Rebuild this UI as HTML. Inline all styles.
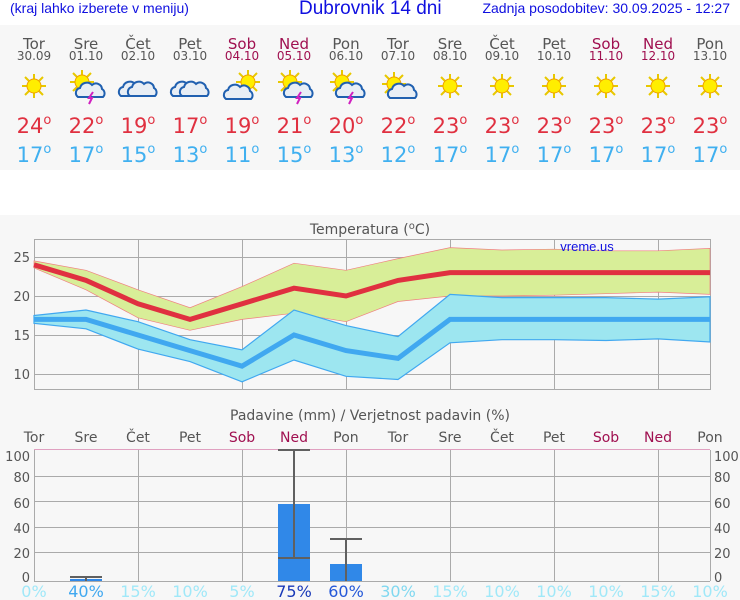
<!DOCTYPE html>
<html><head><meta charset="utf-8"><style>
body{margin:0;width:740px;height:600px;background:#fff;font-family:"DejaVu Sans","Liberation Sans",sans-serif;overflow:hidden;position:relative}
.t{position:absolute}
</style></head><body>
<div class="t" style="left:10px;top:0;font:14px 'Liberation Sans',sans-serif;color:#1010e0">(kraj lahko izberete v meniju)</div>
<div class="t" style="left:299px;top:-2px;font:19px 'Liberation Sans',sans-serif;color:#1010e0">Dubrovnik 14 dni</div>
<div class="t" style="right:10px;top:0;font:14px 'Liberation Sans',sans-serif;color:#1010e0">Zadnja posodobitev: 30.09.2025 - 12:27</div>
<svg class="t" style="left:0;top:0" width="740" height="600" font-family="DejaVu Sans, sans-serif">
<defs>
<g id="sun"><g stroke="#e8c800" stroke-width="2">
<line x1="-12" y1="0" x2="12" y2="0"/><line x1="0" y1="-12" x2="0" y2="12"/><line x1="-9" y1="-9" x2="9" y2="9"/><line x1="-9" y1="9" x2="9" y2="-9"/></g>
<circle r="7" fill="#ffee00" stroke="#f0a000"/></g>
<g id="cloud"><path d="M-13,6 a5,5 0 0 1 2,-9 a7,7 0 0 1 12,-3 a6,6 0 0 1 10,4 a5,5 0 0 1 1,8 z" fill="#e8eef5" stroke="#2060b0" stroke-width="2"/></g>
<g id="bolt"><path d="M2,4 l-4,6 h3 l-3,6" fill="none" stroke="#d020c0" stroke-width="2"/></g>
</defs>
<rect x="0" y="25" width="740" height="145" fill="#f7f7f7"/>
<rect x="0" y="215" width="740" height="385" fill="#f7f7f7"/>
<g font-size="15" text-anchor="middle" fill="#555">
<text x="34" y="49">Tor</text><text x="86" y="49">Sre</text><text x="138" y="49">Čet</text><text x="190" y="49">Pet</text><text x="242" y="49" fill="#a01050">Sob</text><text x="294" y="49" fill="#a01050">Ned</text><text x="346" y="49">Pon</text><text x="398" y="49">Tor</text><text x="450" y="49">Sre</text><text x="502" y="49">Čet</text><text x="554" y="49">Pet</text><text x="606" y="49" fill="#a01050">Sob</text><text x="658" y="49" fill="#a01050">Ned</text><text x="710" y="49">Pon</text>
</g>
<g font-size="12" text-anchor="middle" fill="#555">
<text x="34" y="60">30.09</text><text x="86" y="60">01.10</text><text x="138" y="60">02.10</text><text x="190" y="60">03.10</text><text x="242" y="60" fill="#a01050">04.10</text><text x="294" y="60" fill="#a01050">05.10</text><text x="346" y="60">06.10</text><text x="398" y="60">07.10</text><text x="450" y="60">08.10</text><text x="502" y="60">09.10</text><text x="554" y="60">10.10</text><text x="606" y="60" fill="#a01050">11.10</text><text x="658" y="60" fill="#a01050">12.10</text><text x="710" y="60">13.10</text>
</g>
<use href="#sun" x="34" y="86"/>
<use href="#sun" x="82" y="82"/><use href="#cloud" x="91" y="91"/><use href="#bolt" x="91" y="88"/>
<use href="#cloud" x="134" y="90"/><use href="#cloud" x="143" y="90"/>
<use href="#cloud" x="186" y="90"/><use href="#cloud" x="195" y="90"/>
<use href="#sun" x="248" y="82"/><use href="#cloud" x="239" y="93"/>
<use href="#sun" x="290" y="82"/><use href="#cloud" x="299" y="91"/><use href="#bolt" x="299" y="88"/>
<use href="#sun" x="342" y="82"/><use href="#cloud" x="351" y="91"/><use href="#bolt" x="351" y="88"/>
<use href="#sun" x="394" y="84"/><use href="#cloud" x="403" y="92"/>
<use href="#sun" x="450" y="86"/><use href="#sun" x="502" y="86"/><use href="#sun" x="554" y="86"/><use href="#sun" x="606" y="86"/><use href="#sun" x="658" y="86"/><use href="#sun" x="710" y="86"/>
<g font-size="21" text-anchor="middle" fill="#e03040">
<text x="34" y="133">24<tspan font-size="13" dy="-9">o</tspan></text><text x="86" y="133">22<tspan font-size="13" dy="-9">o</tspan></text><text x="138" y="133">19<tspan font-size="13" dy="-9">o</tspan></text><text x="190" y="133">17<tspan font-size="13" dy="-9">o</tspan></text><text x="242" y="133">19<tspan font-size="13" dy="-9">o</tspan></text><text x="294" y="133">21<tspan font-size="13" dy="-9">o</tspan></text><text x="346" y="133">20<tspan font-size="13" dy="-9">o</tspan></text><text x="398" y="133">22<tspan font-size="13" dy="-9">o</tspan></text><text x="450" y="133">23<tspan font-size="13" dy="-9">o</tspan></text><text x="502" y="133">23<tspan font-size="13" dy="-9">o</tspan></text><text x="554" y="133">23<tspan font-size="13" dy="-9">o</tspan></text><text x="606" y="133">23<tspan font-size="13" dy="-9">o</tspan></text><text x="658" y="133">23<tspan font-size="13" dy="-9">o</tspan></text><text x="710" y="133">23<tspan font-size="13" dy="-9">o</tspan></text>
</g>
<g font-size="21" text-anchor="middle" fill="#40b0f0">
<text x="34" y="162">17<tspan font-size="13" dy="-9">o</tspan></text><text x="86" y="162">17<tspan font-size="13" dy="-9">o</tspan></text><text x="138" y="162">15<tspan font-size="13" dy="-9">o</tspan></text><text x="190" y="162">13<tspan font-size="13" dy="-9">o</tspan></text><text x="242" y="162">11<tspan font-size="13" dy="-9">o</tspan></text><text x="294" y="162">15<tspan font-size="13" dy="-9">o</tspan></text><text x="346" y="162">13<tspan font-size="13" dy="-9">o</tspan></text><text x="398" y="162">12<tspan font-size="13" dy="-9">o</tspan></text><text x="450" y="162">17<tspan font-size="13" dy="-9">o</tspan></text><text x="502" y="162">17<tspan font-size="13" dy="-9">o</tspan></text><text x="554" y="162">17<tspan font-size="13" dy="-9">o</tspan></text><text x="606" y="162">17<tspan font-size="13" dy="-9">o</tspan></text><text x="658" y="162">17<tspan font-size="13" dy="-9">o</tspan></text><text x="710" y="162">17<tspan font-size="13" dy="-9">o</tspan></text>
</g>
<!-- temperature chart -->
<text x="370" y="234" font-size="14" text-anchor="middle" fill="#555">Temperatura (<tspan font-size="10" dy="-5">o</tspan><tspan dy="5">C)</tspan></text>
<rect x="34.5" y="239.5" width="676" height="150" fill="none" stroke="#aaa"/>
<g stroke="#aaa" stroke-width="1">
<line x1="34" y1="257.5" x2="710" y2="257.5"/><line x1="34" y1="296.5" x2="710" y2="296.5"/><line x1="34" y1="335.5" x2="710" y2="335.5"/><line x1="34" y1="374.5" x2="710" y2="374.5"/>
<line x1="138.5" y1="239" x2="138.5" y2="389"/><line x1="242.5" y1="239" x2="242.5" y2="389"/><line x1="346.5" y1="239" x2="346.5" y2="389"/><line x1="450.5" y1="239" x2="450.5" y2="389"/><line x1="554.5" y1="239" x2="554.5" y2="389"/><line x1="658.5" y1="239" x2="658.5" y2="389"/>
</g>
<g font-size="13" fill="#555" text-anchor="end"><text x="30" y="262">25</text><text x="30" y="301">20</text><text x="30" y="340">15</text><text x="30" y="379">10</text></g>
<polygon fill="#d8ee98" stroke="#f08080" stroke-width="0.7" points="34,260.9 86,270.3 138,289.8 190,307.7 242,286.6 294,263.2 346,270.3 398,258.6 450,247.6 502,250 554,249.2 606,250.8 658,250.8 710,248.4 710,294.4 658,292.1 606,293.7 554,295.2 502,296 450,296 398,301.5 346,321.7 294,313.2 242,319.4 190,330.3 138,317.8 86,289.8 34,267.9"/>
<polygon fill="#9de6f0" stroke="#40a8f0" stroke-width="1.2" points="34,315.5 86,310 138,321.7 190,339.7 242,349.8 294,310 346,325.6 398,336.6 450,294.4 502,297.6 554,297.6 606,297.6 658,299.1 710,296.8 710,342 658,338.9 606,340.5 554,339.7 502,339.7 450,342.8 398,379.5 346,376.3 294,360 242,381.8 190,361.6 138,349.1 86,328.8 34,323.3"/>
<polyline fill="none" stroke="#40a8f0" stroke-width="5" points="34,319.4 86,319.4 138,335 190,350.6 242,366.2 294,335 346,350.6 398,358.4 450,319.4 502,319.4 554,319.4 606,319.4 658,319.4 710,319.4"/>
<polyline fill="none" stroke="#e03040" stroke-width="5" points="34,264.8 86,280.4 138,303.8 190,319.4 242,303.8 294,288.2 346,296 398,280.4 450,272.6 502,272.6 554,272.6 606,272.6 658,272.6 710,272.6"/>
<text x="587" y="251" font-size="13" text-anchor="middle" fill="#1010e0" font-family="Liberation Sans,sans-serif">vreme.us</text>
<!-- precipitation -->
<text x="370" y="420" font-size="14" text-anchor="middle" fill="#555">Padavine (mm) / Verjetnost padavin (%)</text>
<g font-size="14" text-anchor="middle" fill="#555">
<text x="34" y="442">Tor</text><text x="86" y="442">Sre</text><text x="138" y="442">Čet</text><text x="190" y="442">Pet</text><text x="242" y="442" fill="#a01050">Sob</text><text x="294" y="442" fill="#a01050">Ned</text><text x="346" y="442">Pon</text><text x="398" y="442">Tor</text><text x="450" y="442">Sre</text><text x="502" y="442">Čet</text><text x="554" y="442">Pet</text><text x="606" y="442" fill="#a01050">Sob</text><text x="658" y="442" fill="#a01050">Ned</text><text x="710" y="442">Pon</text>
</g>
<g stroke="#aaa">
<line x1="34" y1="476.5" x2="710" y2="476.5"/><line x1="34" y1="501.5" x2="710" y2="501.5"/><line x1="34" y1="527.5" x2="710" y2="527.5"/><line x1="34" y1="552.5" x2="710" y2="552.5"/>
<line x1="138.5" y1="450" x2="138.5" y2="581"/><line x1="242.5" y1="450" x2="242.5" y2="581"/><line x1="346.5" y1="450" x2="346.5" y2="581"/><line x1="450.5" y1="450" x2="450.5" y2="581"/><line x1="554.5" y1="450" x2="554.5" y2="581"/><line x1="658.5" y1="450" x2="658.5" y2="581"/>
<line x1="34.5" y1="450" x2="34.5" y2="581"/><line x1="710.5" y1="450" x2="710.5" y2="581"/><line x1="34" y1="581.5" x2="710" y2="581.5"/>
</g>
<line x1="34" y1="449.5" x2="710" y2="449.5" stroke="#e0a0c0"/>
<g font-size="13" fill="#555" text-anchor="end"><text x="30" y="461">100</text><text x="30" y="482">80</text><text x="30" y="508">60</text><text x="30" y="533">40</text><text x="30" y="558">20</text><text x="30" y="582">0</text></g>
<g font-size="13" fill="#555"><text x="714" y="461">100</text><text x="714" y="482">80</text><text x="714" y="508">60</text><text x="714" y="533">40</text><text x="714" y="558">20</text><text x="714" y="582">0</text></g>
<g fill="#3088e8">
<rect x="70" y="579" width="32" height="2"/><rect x="278" y="504" width="32" height="77"/><rect x="330" y="564" width="32" height="17"/>
</g>
<g stroke="#606060" stroke-width="2">
<line x1="70" y1="577" x2="102" y2="577"/><line x1="86" y1="577" x2="86" y2="581"/>
<line x1="278" y1="450" x2="310" y2="450"/><line x1="294" y1="450" x2="294" y2="558"/><line x1="278" y1="558" x2="310" y2="558"/>
<line x1="330" y1="539" x2="362" y2="539"/><line x1="346" y1="539" x2="346" y2="581"/>
</g>
<g font-size="16" text-anchor="middle">
<text x="34" y="597" fill="#a0e8f8">0%</text><text x="86" y="597" fill="#40a8f0">40%</text><text x="138" y="597" fill="#a0e8f8">15%</text><text x="190" y="597" fill="#a0e8f8">10%</text><text x="242" y="597" fill="#a0e8f8">5%</text><text x="294" y="597" fill="#1a3ab8">75%</text><text x="346" y="597" fill="#2458d8">60%</text><text x="398" y="597" fill="#80d8f0">30%</text><text x="450" y="597" fill="#a0e8f8">15%</text><text x="502" y="597" fill="#a0e8f8">10%</text><text x="554" y="597" fill="#a0e8f8">10%</text><text x="606" y="597" fill="#a0e8f8">10%</text><text x="658" y="597" fill="#a0e8f8">15%</text><text x="710" y="597" fill="#a0e8f8">10%</text>
</g>
</svg>
</body></html>
